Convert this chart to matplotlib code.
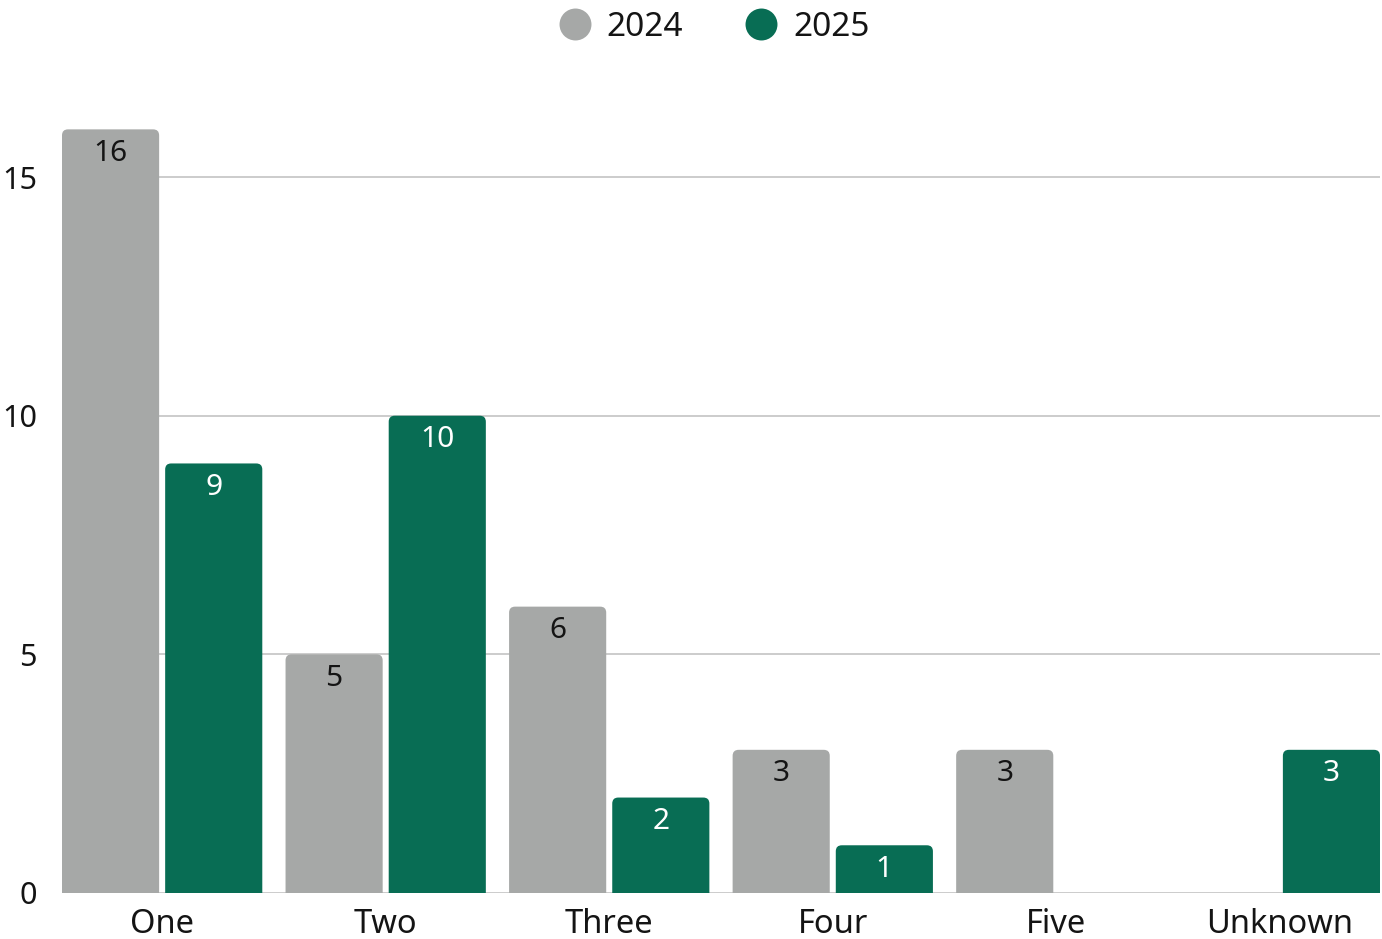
import numpy as np
import matplotlib.pyplot as plt
from matplotlib.patches import FancyBboxPatch
from matplotlib.lines import Line2D

categories = ["One", "Two", "Three", "Four", "Five", "Unknown"]
years = ["2024", "2025"]
vals_2024 = [16, 5, 6, 3, 3, 0]
vals_2025 = [9, 10, 2, 1, 0, 3]

gray = "#a6a8a7"
green = "#086d54"
ink = "#141414"

plt.rcParams['font.family'] = ['Noto Sans', 'DejaVu Sans']

fig = plt.figure(figsize=(13.82, 9.39), dpi=100)
W, H = 1382, 939
ax = fig.add_axes([62 / W, (H - 893) / H, (1380 - 62) / W, (893 - 105.5) / H])

x = np.arange(len(categories))
bw = 0.4345
gap = 0.027
ymax = 16.5

bars1 = ax.bar(x - (bw + gap) / 2, vals_2024, bw, color=gray, zorder=3)
bars2 = ax.bar(x + (bw + gap) / 2, vals_2025, bw, color=green, zorder=3)

# swap plain bars for ones with rounded tops (bottom corners hidden below 0)
ppx = 223.25            # pixels per category step
ppy = (893 - 177) / 15  # pixels per unit on y
r_px = 6
for bars, col, txtcol in [(bars1, gray, ink), (bars2, green, "white")]:
    for b in bars:
        h = b.get_height()
        b.remove()
        if h <= 0:
            continue
        xb, w = b.get_x(), b.get_width()
        patch = FancyBboxPatch((xb, -1), w, h + 1,
                               boxstyle=f"round,pad=0,rounding_size={r_px / ppx}",
                               mutation_aspect=ppx / ppy,
                               fc=col, ec="none", zorder=3)
        ax.add_patch(patch)
        ax.annotate(f"{h:g}", (xb + w / 2, h), xytext=(0, -24), textcoords="offset pixels",
                    ha="center", va="center", fontsize=21.5, color=txtcol, zorder=4)

ax.set_xlim(-(bw + gap / 2), len(categories) - 1 + (bw + gap / 2))
ax.set_ylim(0, ymax)
ax.set_yticks([0, 5, 10, 15])
ax.set_xticks(x)
ax.set_xticklabels(categories)
ax.tick_params(axis="y", length=0, pad=18, labelsize=22, labelcolor=ink)
ax.tick_params(axis="x", length=0, pad=11, labelsize=23.5, labelcolor=ink)
ax.grid(axis="y", color="#cccccc", linewidth=1.4, zorder=1)
for s in ax.spines.values():
    s.set_visible(False)

handles = [Line2D([], [], marker="o", linestyle="none", markersize=23, markerfacecolor=c, markeredgecolor="none")
           for c in (gray, green)]
fig.legend(handles, years, loc="center", bbox_to_anchor=(712 / W, 1 - 27 / H), ncol=2,
           frameon=False, fontsize=24, handlelength=1.2, handletextpad=0.35, columnspacing=1.75,
           labelcolor=ink)

fig.savefig("out.png", dpi=100)
